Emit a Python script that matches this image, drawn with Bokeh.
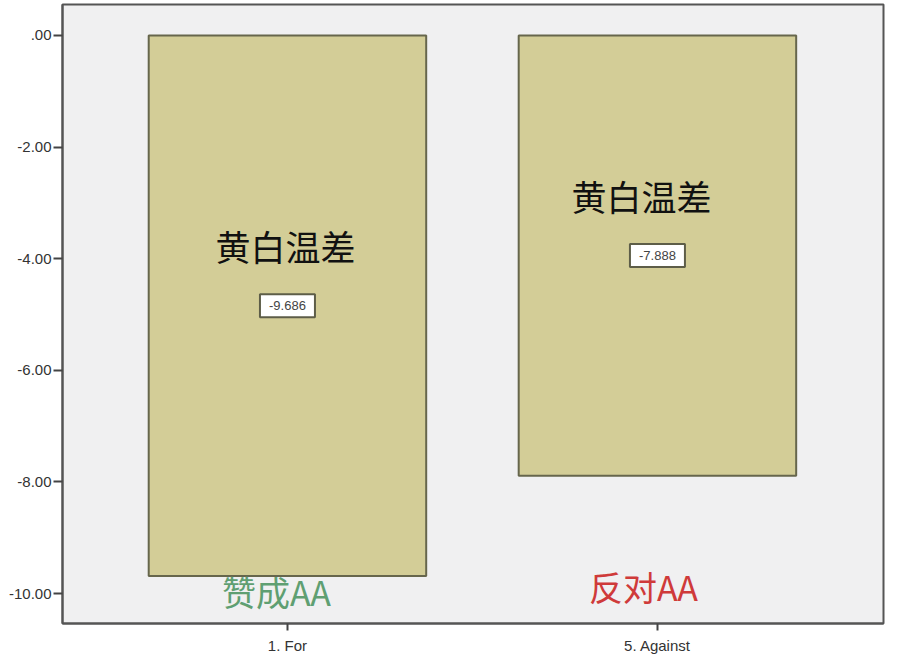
from bokeh.plotting import figure
from bokeh.models import (ColumnDataSource, Range1d, FixedTicker,
                          CustomJSTickFormatter)
from bokeh.core.properties import value
from bokeh.embed import file_html
from bokeh.resources import INLINE

categories = ["1. For", "5. Against"]
means = [-9.686, -7.888]
bar_titles = ["黄白温差", "黄白温差"]
group_notes = ["赞成AA", "反对AA"]
note_colors = ["#5f9f72", "#cf3a3a"]
y_ticks = [0, -2, -4, -6, -8, -10]

xs = list(range(len(categories)))
mids = [m / 2 for m in means]
src = ColumnDataSource(dict(
    x=xs, top=[0] * len(xs), bottom=means, mid=mids,
    lab=["%.3f" % m for m in means], title=bar_titles,
    tdx=[-2, -16],
))
notes = ColumnDataSource(dict(x=xs, y=[-9.96, -9.87], t=group_notes,
                              c=note_colors, dx=[-11, -14]))

p = figure(width=886, height=656, output_backend="svg", toolbar_location=None,
           x_range=Range1d(-0.608, 1.611), y_range=Range1d(-10.536, 0.554),
           min_border_left=62, min_border_right=3, min_border_top=4,
           min_border_bottom=31)
p.background_fill_color = "#f0f0f1"
p.border_fill_color = "white"
p.outline_line_color = "#555555"
p.outline_line_width = 2
p.grid.visible = False

p.vbar(x="x", top="top", bottom="bottom", width=0.75, source=src,
       fill_color="#d3cd97", line_color="#66664c", line_width=2)

p.text(x="x", y="mid", text="title", source=src, x_offset="tdx", y_offset=-60,
       text_font=value("Noto Sans CJK SC"), text_font_size="35px",
       text_color="#111111", text_align="center", text_baseline="middle")

p.rect(x="x", y="mid", width=55, height=23, width_units="screen",
       height_units="screen", source=src, fill_color="white",
       line_color="#5d5d48", line_width=2)
p.text(x="x", y="mid", text="lab", source=src,
       text_font=value("Liberation Sans"), text_font_size="13px",
       text_color="#444444", text_align="center", text_baseline="middle")

p.text(x="x", y="y", text="t", source=notes, x_offset="dx",
       text_color="c", text_font=value("Noto Sans CJK SC"),
       text_font_size="34px", text_align="center", text_baseline="middle")

for ax in (p.xaxis[0], p.yaxis[0]):
    ax.axis_line_color = "#555555"
    ax.axis_line_width = 2
    ax.major_tick_line_color = "#444444"
    ax.major_tick_line_width = 2
    ax.major_tick_in = 0
    ax.minor_tick_line_color = None
    ax.major_label_text_font = "Liberation Sans"
    ax.major_label_text_font_size = "15px"
    ax.major_label_text_color = "#333333"

p.yaxis.major_tick_out = 9
p.yaxis.major_label_standoff = 2
p.xaxis.major_tick_out = 7
p.xaxis.major_label_standoff = 6

p.xaxis.ticker = FixedTicker(ticks=xs)
p.xaxis.major_label_overrides = {i: c for i, c in zip(xs, categories)}
p.yaxis.ticker = FixedTicker(ticks=y_ticks)
p.yaxis.formatter = CustomJSTickFormatter(code="""
    var s = tick.toFixed(2);
    if (s.indexOf('0.') === 0) s = s.slice(1);
    if (s.indexOf('-0.') === 0) s = '-' + s.slice(2);
    return s;
""")

open("out.html", "w").write(file_html(p, INLINE))
